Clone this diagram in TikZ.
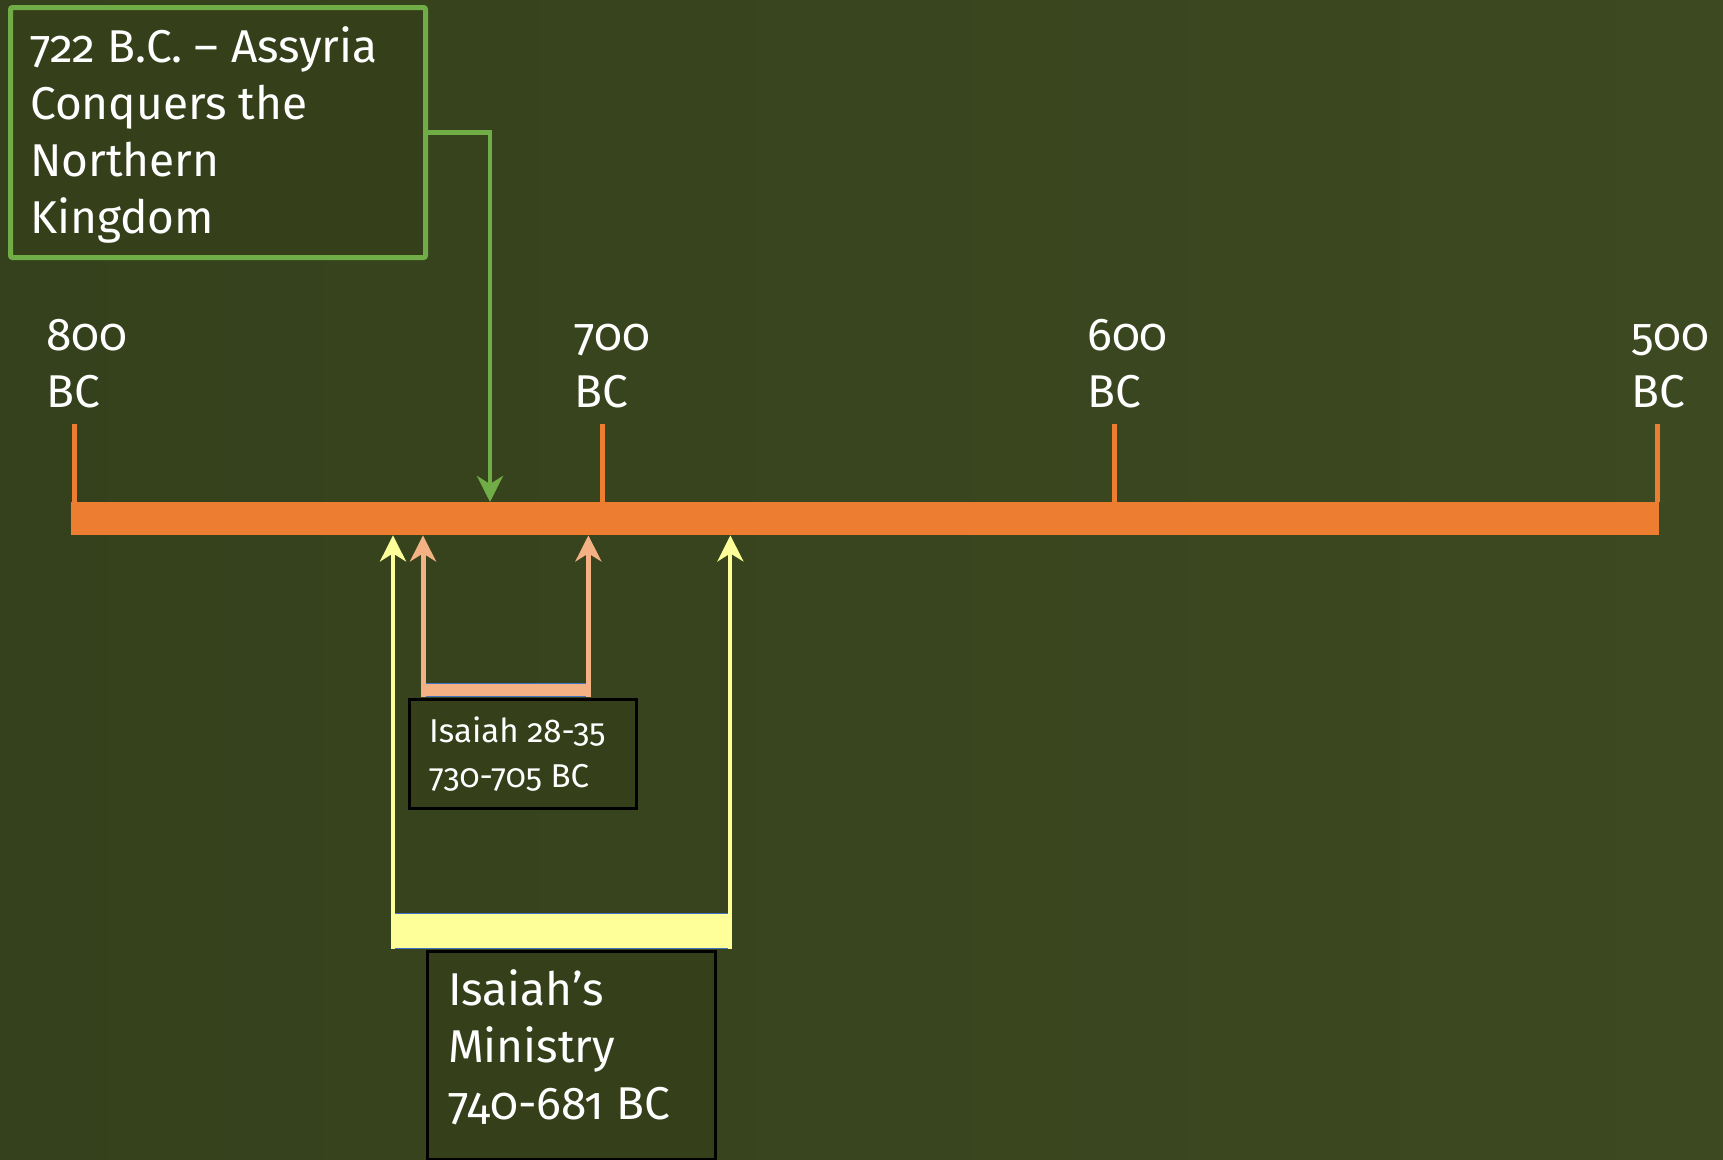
\documentclass[tikz,border=0pt]{standalone}
\usepackage{fontspec}
\setmainfont{Fira Sans}[Numbers=OldStyle]
\usetikzlibrary{arrows.meta}
\definecolor{bgL}{HTML}{35411C}
\definecolor{bgR}{HTML}{3D4920}
\definecolor{boxbg}{HTML}{35401B}
\definecolor{orange1}{HTML}{ED7D31}
\definecolor{green1}{HTML}{70AD47}
\definecolor{salmon1}{HTML}{F4B183}
\definecolor{yellow1}{HTML}{FFFF99}
\definecolor{blue1}{HTML}{4472C4}
\tikzset{
  lbl/.style={text=white, inner sep=0pt, align=left, font=\fontsize{46}{57}\selectfont},
  lblsmall/.style={text=white, inner sep=0pt, align=left, font=\fontsize{33}{45}\selectfont},
  tiptri/.style={-{Stealth[length=26pt,width=26pt,inset=8pt]}},
  tickline/.style={orange1, line width=5pt},
  blackbox/.style={draw=black, line width=2.5pt, fill=boxbg, inner sep=0pt, anchor=north west},
  band/.style={inner sep=0pt, anchor=north west},
  thinblue/.style={blue1, line width=1.2pt},
}
\begin{document}
\begin{tikzpicture}[x=1pt,y=-1pt]
\shade[left color=bgL,right color=bgR] (0,0) rectangle (1723,1159);
\useasboundingbox (0,0) rectangle (1723,1159);

% timeline bar
\node[fill=orange1, minimum width=1588pt, minimum height=33pt, inner sep=0pt, anchor=north west] (bar) at (71,502) {};

% ticks
\coordinate (tk800) at (74,424);
\coordinate (tk700) at (602,424);
\coordinate (tk600) at (1114,424);
\coordinate (tk500) at (1657,424);
\foreach \t in {tk800,tk700,tk600,tk500}
  \draw[tickline] (\t) -- (\t |- bar.north);

% tick labels (anchor = baseline of last line)
\node[lbl, anchor=base west] (l800) at (46,407) {800\\BC};
\node[lbl, anchor=base west] (l700) at (574,407) {700\\BC};
\node[lbl, anchor=base west] (l600) at (1087,407) {600\\BC};
\node[lbl, anchor=base west] (l500) at (1631,407) {500\\BC};

% Assyria box
\node[draw=green1, line width=5pt, fill=boxbg, rounded corners=2pt, minimum width=415pt, minimum height=250pt, inner sep=0pt] (assyria) at (218,132.5) {};
\node[lbl, anchor=base west] (assyriatxt) at (30,233) {722 B.C. – Assyria\\Conquers the\\Northern\\Kingdom};
\coordinate (a722) at (490,502);
\draw[green1, line width=4.5pt, tiptri] (assyria.east) -| (a722);

% Isaiah 28-35 bracket
\node[band, fill=salmon1, minimum width=170pt, minimum height=14pt] (sband) at (420.5,683) {};
\draw[thinblue] ([xshift=5pt,yshift=-0.6pt]sband.north west) -- ([xshift=-5pt,yshift=-0.6pt]sband.north east);
\draw[thinblue] ([xshift=5pt,yshift=0.6pt]sband.south west) -- ([xshift=-5pt,yshift=0.6pt]sband.south east);
\draw[salmon1, line width=5pt, tiptri] ([xshift=2.5pt]sband.north west) -- ([xshift=2.5pt]sband.north west |- bar.south);
\draw[salmon1, line width=5pt, tiptri] ([xshift=-2.5pt]sband.north east) -- ([xshift=-2.5pt]sband.north east |- bar.south);
\node[blackbox, minimum width=227pt, minimum height=109pt] (s2835) at (408,698) {};
\node[lblsmall, anchor=base west] (s2835txt) at (429,787) {Isaiah 28-35\\730-705 BC};

% Isaiah's Ministry bracket
\node[band, fill=yellow1, minimum width=341pt, minimum height=36pt] (yband) at (391,913) {};
\draw[thinblue] ([xshift=4pt,yshift=-0.6pt]yband.north west) -- ([xshift=-4pt,yshift=-0.6pt]yband.north east);
\draw[thinblue] ([xshift=4pt,yshift=0.6pt]yband.south west) -- ([xshift=-4pt,yshift=0.6pt]yband.south east);
\draw[yellow1, line width=4pt, tiptri] ([xshift=2pt]yband.north west) -- ([xshift=2pt]yband.north west |- bar.south);
\draw[yellow1, line width=4pt, tiptri] ([xshift=-2pt]yband.north east) -- ([xshift=-2pt]yband.north east |- bar.south);
\node[blackbox, minimum width=288pt, minimum height=208pt] (ministry) at (426,950) {};
\node[lbl, anchor=base west] (ministrytxt) at (448,1119) {Isaiah’s\\Ministry\\740-681 BC};
\end{tikzpicture}
\end{document}
